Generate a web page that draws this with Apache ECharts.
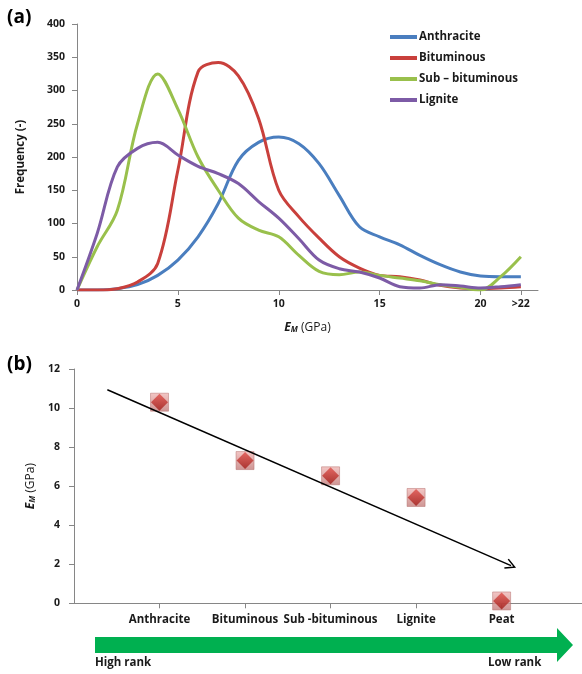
<!DOCTYPE html>
<html><head><meta charset="utf-8">
<script src="https://cdn.jsdelivr.net/npm/echarts@6/dist/echarts.min.js"></script>
<style>html,body{margin:0;padding:0;background:#fff}#c{width:582px;height:674px}</style>
</head><body><div id="c"></div>
<script>
// ---- Panel (a): frequency distributions of E_M ----
const emX = [0,1,2,3,4,5,6,7,8,9,10,11,12,13,14,15,16,17,18,19,20,21,22];
const anthracite   = [0,0,2,8,22,45,80,130,195,222,230,220,190,142,95,80,68,52,38,27,21,20,20];
const bituminous   = [0,0,2,12,40,180,328,342,322,258,150,110,78,50,33,22,20,15,7,3,2,3,5];
const subBituminous= [0,65,120,250,325,272,200,150,108,90,80,52,28,23,27,22,18,14,8,4,0,20,50];
const lignite      = [0,85,185,213,222,203,186,175,160,133,108,77,45,32,27,18,5,3,8,6,3,5,8];
const freqTicks = [0,5,10,15,20,22];
const freqTickLabels = ['0','5','10','15','20','>22'];
// ---- Panel (b): mean E_M by coal rank ----
const rankCategories = ['Anthracite','Bituminous','Sub -bituminous','Lignite','Peat'];
const rankPositions = [1,2,3,4,5];
const rankEM = [10.3,7.31,6.53,5.42,0.12];
const trendLine = [[0.39,10.94],[5.11,1.93]];

const FONT = 'Open Sans';
const pair = (xs, ys) => xs.map((x,i)=>[x, ys[i]]);
const axisGray = '#868686';
const txt = '#1a1a1a';
const rich = {
  e:{fontStyle:'italic', fontWeight:'bold', fontSize:12, fontFamily:FONT, color:txt},
  m:{fontStyle:'italic', fontWeight:'bold', fontSize:8, fontFamily:FONT, color:txt, verticalAlign:'bottom', padding:[5,0,0,0]}
};
const chart = echarts.init(document.getElementById('c'));
const lineSeries = (name, data, color) => ({
  name, type:'line', xAxisIndex:0, yAxisIndex:0, data: pair(emX, data),
  smooth:0.35, symbol:'none', lineStyle:{width:3, color}, itemStyle:{color}
});
chart.setOption({
  animation:false,
  textStyle:{fontFamily:FONT},
  grid:[
    {left:77, right:44, top:24, height:266},
    {left:74, right:0, top:369, height:234.3}
  ],
  legend:{
    orient:'vertical', left:385, top:26, itemWidth:27, itemHeight:4, itemGap:9,
    icon:'rect',
    textStyle:{fontFamily:FONT, fontWeight:'bold', fontSize:11.5, color:txt, padding:[0,0,0,-3]},
    data:['Anthracite','Bituminous','Sub – bituminous','Lignite']
  },
  xAxis:[
    {type:'value', gridIndex:0, min:0, max:22.85,
     axisLine:{lineStyle:{color:axisGray}}, splitLine:{show:false},
     axisTick:{customValues:freqTicks, length:5, lineStyle:{color:axisGray}},
     axisLabel:{customValues:freqTicks, formatter:v=>freqTickLabels[freqTicks.indexOf(v)],
       fontFamily:FONT, fontWeight:'bold', fontSize:10.5, color:txt, margin:9},
     name:'{e|E}{m|M} (GPa)', nameLocation:'middle', nameGap:31,
     nameTextStyle:{fontFamily:FONT, fontSize:12, color:txt, rich}},
    {type:'value', gridIndex:1, min:0, max:5.94,
     axisLine:{lineStyle:{color:axisGray}}, splitLine:{show:false},
     axisTick:{customValues:rankPositions, length:5, lineStyle:{color:axisGray}},
     axisLabel:{customValues:rankPositions, formatter:v=>rankCategories[v-1],
       fontFamily:FONT, fontWeight:'bold', fontSize:11.5, color:txt, margin:10}}
  ],
  yAxis:[
    {type:'value', gridIndex:0, min:0, max:400, interval:50,
     axisLine:{show:true, lineStyle:{color:axisGray}}, splitLine:{show:false},
     axisTick:{show:true, length:5, lineStyle:{color:axisGray}},
     axisLabel:{fontFamily:FONT, fontWeight:'bold', fontSize:10.5, color:txt, margin:12},
     name:'Frequency (-)', nameLocation:'middle', nameGap:50,
     nameTextStyle:{fontFamily:FONT, fontWeight:'bold', fontSize:11.5, color:txt}},
    {type:'value', gridIndex:1, min:0, max:12, interval:2,
     axisLine:{show:true, lineStyle:{color:axisGray}}, splitLine:{show:false},
     axisTick:{show:true, length:5, lineStyle:{color:axisGray}},
     axisLabel:{fontFamily:FONT, fontWeight:'bold', fontSize:10.5, color:txt, margin:14},
     name:'{e|E}{m|M} (GPa)', nameLocation:'middle', nameGap:34,
     nameTextStyle:{fontFamily:FONT, fontSize:12, color:txt, rich}}
  ],
  series:[
    lineSeries('Anthracite', anthracite, '#4a7ebf'),
    lineSeries('Bituminous', bituminous, '#c9403c'),
    lineSeries('Sub – bituminous', subBituminous, '#99c04c'),
    lineSeries('Lignite', lignite, '#7d5ba6'),
    {type:'scatter', xAxisIndex:1, yAxisIndex:1, data:pair(rankPositions, rankEM),
     symbol:'rect', symbolSize:18, z:3,
     itemStyle:{color:new echarts.graphic.LinearGradient(0,0,0,1,[{offset:0,color:'#f0b8b6'},{offset:1,color:'#c27c7a'}]),
       borderColor:'#b06a68', borderWidth:0.6},
     markLine:{silent:true, symbol:['none','path://M0,12 L6,0 L12,12 L10.6,12.9 L6,3.6 L1.4,12.9 Z'],
       symbolSize:[11,11], label:{show:false}, lineStyle:{color:'#000', width:1.5, type:'solid'},
       data:[[{coord:trendLine[0]},{coord:trendLine[1]}]]}},
    {type:'scatter', xAxisIndex:1, yAxisIndex:1, data:pair(rankPositions, rankEM),
     symbol:'diamond', symbolSize:[17,17], z:4,
     itemStyle:{color:new echarts.graphic.LinearGradient(0,0,0,1,[{offset:0,color:'#e0504a'},{offset:1,color:'#a01c18'}])}}
  ],
  graphic:[
    {type:'text', left:7, top:8, style:{text:'(a)', font:'bold 19px '+FONT, fill:'#000'}},
    {type:'text', left:7, top:355, style:{text:'(b)', font:'bold 19px '+FONT, fill:'#000'}},
    {type:'polygon', shape:{points:[[95,637],[557,637],[557,628],[573,645],[557,662],[557,653],[95,653]]},
     style:{fill:'#00b050'}},
    {type:'text', left:95, top:657, style:{text:'High rank', font:'bold 11.5px '+FONT, fill:txt}},
    {type:'text', left:488, top:657, style:{text:'Low rank', font:'bold 11.5px '+FONT, fill:txt}}
  ]
});
</script></body></html>
